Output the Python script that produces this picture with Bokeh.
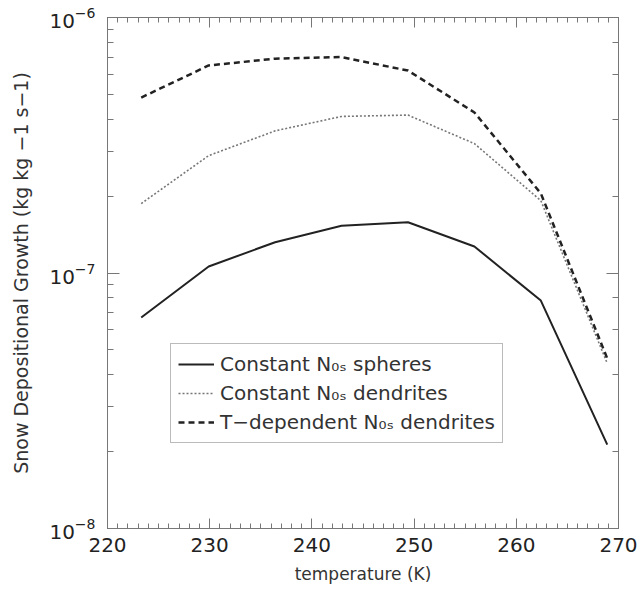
from bokeh.embed import file_html
from bokeh.models import Legend, LegendItem, LinearAxis, LogAxis, Range1d
from bokeh.plotting import figure
from bokeh.resources import INLINE

# temperatures (K) at which growth was evaluated
temperature = [223.3, 229.9, 236.4, 242.9, 249.4, 255.9, 262.4, 268.9]

# snow depositional growth (kg kg-1 s-1)
spheres_const = [6.7e-8, 1.06e-7, 1.32e-7, 1.53e-7, 1.58e-7, 1.27e-7, 7.8e-8, 2.13e-8]
dendrites_const = [1.87e-7, 2.88e-7, 3.6e-7, 4.1e-7, 4.15e-7, 3.21e-7, 1.92e-7, 4.43e-8]
dendrites_tdep = [4.86e-7, 6.49e-7, 6.9e-7, 7.0e-7, 6.2e-7, 4.25e-7, 2.05e-7, 4.63e-8]

labels = ["Constant N\u2080\u209b spheres",
          "Constant N\u2080\u209b dendrites",
          "T\u2212dependent N\u2080\u209b dendrites"]

FONT = "DejaVu Sans"
AXIS_COLOR = "#777777"
TEXT_COLOR = "#333333"

p = figure(width=639, height=589, y_axis_type="log",
           x_range=Range1d(220, 270), y_range=Range1d(1e-8, 1e-6),
           output_backend="svg", toolbar_location=None,
           min_border_left=107, min_border_right=21,
           min_border_top=17, min_border_bottom=61)
p.grid.visible = False
p.outline_line_color = AXIS_COLOR
p.background_fill_color = "white"
p.border_fill_color = "white"


def style_axis(ax, major_in, minor_in):
    ax.axis_line_color = AXIS_COLOR
    ax.major_tick_line_color = AXIS_COLOR
    ax.minor_tick_line_color = AXIS_COLOR
    ax.major_tick_in = major_in
    ax.major_tick_out = 0
    ax.minor_tick_in = minor_in
    ax.minor_tick_out = 0
    ax.major_label_text_font = FONT
    ax.major_label_text_font_size = "20px"
    ax.major_label_text_color = "#222222"
    ax.major_label_standoff = 9
    ax.axis_label_text_font = FONT
    ax.axis_label_text_font_size = "17px"
    ax.axis_label_text_font_style = "normal"
    ax.axis_label_text_color = TEXT_COLOR


xa = p.xaxis[0]
xa.ticker.desired_num_ticks = 6
xa.ticker.num_minor_ticks = 10
xa.axis_label = "temperature (K)"
xa.axis_label_standoff = 9
style_axis(xa, 10, 5)

ya = p.yaxis[0]
ya.axis_label = "Snow Depositional Growth (kg kg \u22121 s\u22121)"
style_axis(ya, 12, 6)
ya.axis_label_text_font_size = "19px"
ya.axis_label_standoff = 14
ya.major_label_standoff = 12

top = LinearAxis()
top.ticker.num_minor_ticks = 10
style_axis(top, 10, 5)
top.major_label_text_color = None
top.major_label_standoff = 0
p.add_layout(top, "above")

right = LogAxis()
style_axis(right, 12, 6)
right.major_label_text_color = None
right.major_label_standoff = 0
p.add_layout(right, "right")

r1 = p.line(temperature, spheres_const, line_color="#222222", line_width=2)
r2 = p.line(temperature, dendrites_const, line_color="#777777", line_width=1.6,
            line_dash="2 2")
r3 = p.line(temperature, dendrites_tdep, line_color="#222222", line_width=2.5,
            line_dash="6 4")

legend = Legend(items=[LegendItem(label=labels[0], renderers=[r1]),
                       LegendItem(label=labels[1], renderers=[r2]),
                       LegendItem(label=labels[2], renderers=[r3])],
                location=(63, 85), orientation="vertical",
                label_text_font=FONT, label_text_font_size="20px",
                label_text_color=TEXT_COLOR,
                glyph_width=36, glyph_height=26, label_standoff=6,
                spacing=3, padding=7, margin=0,
                border_line_color=AXIS_COLOR, border_line_width=1.5,
                background_fill_alpha=1.0)
p.add_layout(legend, "center")

open("out.html", "w").write(file_html(p, INLINE))
